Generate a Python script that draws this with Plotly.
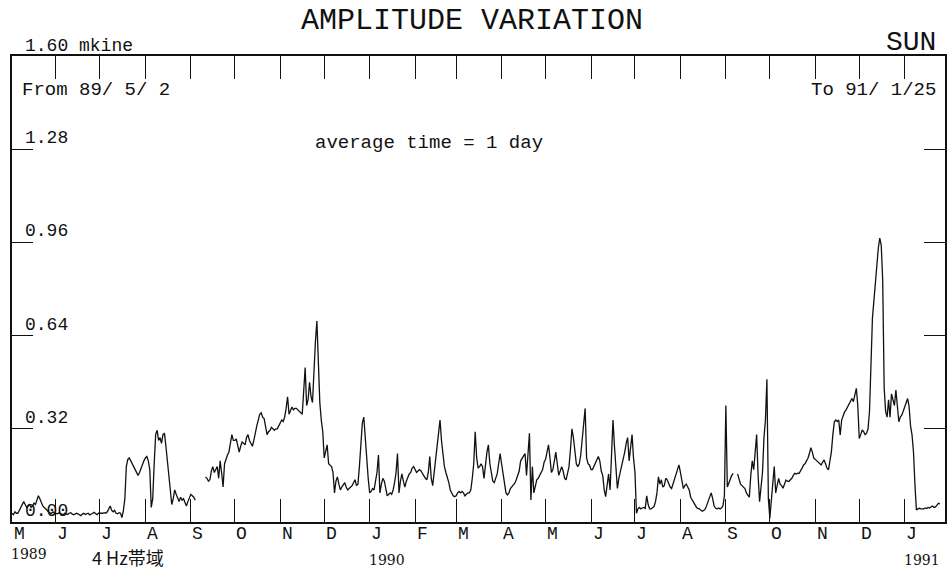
import pandas as pd
import plotly.graph_objects as go

# ---- daily amplitude values (mkine), 1989-05-02 .. 1991-01-25 ----
may89 = [0.03, 0.025, 0.035, 0.03, 0.03, 0.04, 0.05, 0.065, 0.07, 0.06,
         0.05, 0.055, 0.06, 0.05, 0.055, 0.065, 0.06, 0.075, 0.09, 0.08,
         0.065, 0.055, 0.05, 0.045, 0.04, 0.035, 0.03, 0.03, 0.035, 0.03]
jun89 = [0.03, 0.028, 0.032, 0.03, 0.027, 0.025, 0.03, 0.028, 0.026, 0.03,
         0.032, 0.028, 0.025, 0.027, 0.03, 0.028, 0.025, 0.022, 0.027, 0.03,
         0.026, 0.028, 0.03, 0.024, 0.026, 0.03, 0.033, 0.028, 0.025, 0.03]
jul89 = [0.03, 0.028, 0.03, 0.032, 0.03, 0.035, 0.045, 0.055, 0.04, 0.035,
         0.04, 0.03, 0.028, 0.032, 0.03, 0.015, 0.04, 0.08, 0.19, 0.215,
         0.22, 0.21, 0.2, 0.19, 0.175, 0.165, 0.16, 0.17, 0.185, 0.195, 0.21]
aug89 = [0.22, 0.225, 0.21, 0.18, 0.05, 0.08, 0.2, 0.3, 0.315, 0.28,
         0.29, 0.27, 0.3, 0.305, 0.26, 0.21, 0.14, 0.1, 0.06, 0.08,
         0.11, 0.095, 0.08, 0.07, 0.085, 0.075, 0.08, 0.065, 0.055, 0.07, 0.085]
sep89 = [0.095, 0.09, 0.085, 0.075, None, None, None, None, None, None,
         0.155, 0.15, 0.14, 0.145, 0.175, 0.19, 0.17, 0.18, 0.19, 0.15,
         0.21, 0.17, 0.12, 0.2, 0.22, 0.23, 0.24, 0.27, 0.3, 0.28]
oct89 = [0.28, 0.285, 0.26, 0.24, 0.26, 0.275, 0.27, 0.265, 0.29, 0.3,
         0.28, 0.27, 0.26, 0.28, 0.31, 0.33, 0.35, 0.37, 0.375, 0.36,
         0.355, 0.33, 0.3, 0.31, 0.315, 0.325, 0.32, 0.315, 0.32, 0.32, 0.33]
nov89 = [0.34, 0.35, 0.345, 0.36, 0.39, 0.43, 0.37, 0.38, 0.395, 0.385,
         0.39, 0.39, 0.385, 0.38, 0.375, 0.37, 0.45, 0.53, 0.4, 0.42,
         0.48, 0.43, 0.41, 0.54, 0.62, 0.69, 0.52, 0.41, 0.35, 0.31]
dec89 = [0.22, 0.245, 0.265, 0.2, 0.195, 0.19, 0.17, 0.1, 0.14, 0.155,
         0.13, 0.11, 0.12, 0.13, 0.135, 0.12, 0.11, 0.115, 0.12, 0.125,
         0.135, 0.145, 0.125, 0.13, 0.19, 0.25, 0.34, 0.36, 0.28, 0.2, 0.15]
jan90 = [0.1, 0.105, 0.115, 0.11, 0.14, 0.17, 0.23, 0.1, 0.13, 0.15,
         0.14, 0.11, 0.09, 0.095, 0.1, 0.095, 0.11, 0.135, 0.17, 0.235,
         0.1, 0.14, 0.165, 0.14, 0.12, 0.14, 0.155, 0.165, 0.17, 0.185, 0.19]
feb90 = [0.18, 0.17, 0.175, 0.18, 0.175, 0.165, 0.155, 0.15, 0.145, 0.17,
         0.225, 0.15, 0.125, 0.17, 0.2, 0.24, 0.29, 0.35, 0.28, 0.22,
         0.19, 0.17, 0.155, 0.135, 0.11, 0.1, 0.09, 0.087]
mar90 = [0.09, 0.1, 0.105, 0.1, 0.105, 0.1, 0.09, 0.095, 0.1, 0.1,
         0.11, 0.15, 0.2, 0.31, 0.22, 0.185, 0.19, 0.2, 0.19, 0.15,
         0.2, 0.24, 0.265, 0.2, 0.17, 0.14, 0.135, 0.15, 0.165, 0.2, 0.235]
apr90 = [0.2, 0.16, 0.14, 0.1, 0.093, 0.1, 0.115, 0.12, 0.125, 0.133,
         0.145, 0.16, 0.175, 0.21, 0.22, 0.225, 0.235, 0.16, 0.25, 0.305,
         0.076, 0.19, 0.1, 0.12, 0.145, 0.15, 0.16, 0.175, 0.18, 0.205]
may90 = [0.215, 0.24, 0.265, 0.22, 0.17, 0.18, 0.22, 0.24, 0.2, 0.16,
         0.175, 0.19, 0.175, 0.15, 0.145, 0.165, 0.19, 0.25, 0.32, 0.29,
         0.25, 0.2, 0.19, 0.2, 0.23, 0.28, 0.33, 0.39, 0.22, 0.2, 0.195]
jun90 = [0.18, 0.18, 0.19, 0.2, 0.21, 0.225, 0.21, 0.175, 0.16, 0.11,
         0.087, 0.13, 0.165, 0.11, 0.22, 0.35, 0.26, 0.18, 0.115, 0.15,
         0.17, 0.19, 0.22, 0.24, 0.27, 0.29, 0.21, 0.25, 0.3, 0.22]
jul90 = [0.17, 0.03, 0.045, 0.05, 0.045, 0.048, 0.05, 0.047, 0.09, 0.06,
         0.045, 0.045, 0.05, 0.053, 0.07, 0.1, 0.155, 0.13, 0.145, 0.12,
         0.125, 0.15, 0.145, 0.13, 0.12, 0.115, 0.13, 0.145, 0.16, 0.18, 0.196]
aug90 = [0.17, 0.14, 0.115, 0.125, 0.13, 0.12, 0.11, 0.085, 0.075, 0.065,
         0.055, 0.05, 0.047, 0.045, 0.04, 0.037, 0.04, 0.045, 0.058, 0.07,
         0.085, 0.1, 0.08, 0.055, 0.047, 0.045, 0.048, 0.045, 0.048, 0.055, 0.09]
sep90 = [0.4, 0.12, 0.135, 0.15, 0.16, 0.167, None, None, 0.165, 0.15,
         0.13, 0.125, 0.12, 0.115, 0.1, 0.09, 0.085, 0.16, 0.21, 0.18,
         0.25, 0.3, 0.16, 0.07, 0.12, 0.17, 0.29, 0.35, 0.49, 0.08]
oct90 = [0.013, 0.07, 0.11, 0.19, 0.1, 0.12, 0.15, 0.13, 0.125, 0.116,
         0.13, 0.144, 0.14, 0.139, 0.145, 0.15, 0.16, 0.167, 0.165, 0.168,
         0.167, 0.175, 0.185, 0.196, 0.2, 0.21, 0.219, 0.235, 0.255, 0.24, 0.219]
nov90 = [0.215, 0.21, 0.208, 0.2, 0.196, 0.205, 0.213, 0.2, 0.185, 0.179,
         0.21, 0.241, 0.3, 0.344, 0.35, 0.345, 0.35, 0.299, 0.35, 0.365,
         0.378, 0.385, 0.395, 0.401, 0.415, 0.424, 0.413, 0.44, 0.459, 0.401]
dec90 = [0.287, 0.3, 0.316, 0.31, 0.3, 0.305, 0.32, 0.38, 0.53, 0.7,
         0.76, 0.83, 0.87, 0.94, 0.975, 0.95, 0.83, 0.46, 0.38, 0.36,
         0.42, 0.36, 0.44, 0.42, 0.4, 0.453, 0.38, 0.344, 0.36, 0.367, 0.38]
jan91 = [0.396, 0.41, 0.424, 0.396, 0.33, 0.299, 0.241, 0.127, 0.041, 0.045,
         0.047, 0.045, 0.044, 0.045, 0.048, 0.046, 0.05, 0.048, 0.052, 0.055,
         0.05, 0.052, 0.058, 0.064, 0.062]

segment_starts = ["1989-05-02", "1989-06-01", "1989-07-01", "1989-08-01", "1989-09-01",
                  "1989-10-01", "1989-11-01", "1989-12-01", "1990-01-01", "1990-02-01",
                  "1990-03-01", "1990-04-01", "1990-05-01", "1990-06-01", "1990-07-01",
                  "1990-08-01", "1990-09-01", "1990-10-01", "1990-11-01", "1990-12-01",
                  "1991-01-01"]
segments = [may89, jun89, jul89, aug89, sep89, oct89, nov89, dec89, jan90, feb90,
            mar90, apr90, may90, jun90, jul90, aug90, sep90, oct90, nov90, dec90, jan91]

month_letters = ["M", "J", "J", "A", "S", "O", "N", "D", "J", "F", "M",
                 "A", "M", "J", "J", "A", "S", "O", "N", "D", "J"]
year_labels = ["1989", "1990", "1991"]
year_positions = ["1989-05-02", "1990-01-01", "1991-01-01"]
y_ticks = [0.32, 0.64, 0.96, 1.28]
y_labels = [0.00, 0.32, 0.64, 0.96, 1.28]

dates, values = [], []
for start, vals in zip(segment_starts, segments):
    dates += list(pd.date_range(start, periods=len(vals), freq="D"))
    values += vals

MONO = "Liberation Mono"
BLACK = "#111111"

fig = go.Figure()
fig.add_trace(go.Scatter(x=dates, y=values, mode="lines",
                         line=dict(color=BLACK, width=1.3),
                         connectgaps=False, hoverinfo="skip", showlegend=False))

annotations = []
# month letters along the bottom
for start, letter in zip(segment_starts, month_letters):
    annotations.append(dict(x=start, y=0, xref="x", yref="paper", text=letter,
                            showarrow=False, xanchor="center", yanchor="top",
                            xshift=7, yshift=0, font=dict(family=MONO, size=18, color=BLACK)))
# years
for pos, yr in zip(year_positions, year_labels):
    annotations.append(dict(x=pos, y=0, xref="x", yref="paper", text=yr,
                            showarrow=False, xanchor="left", yanchor="top",
                            xshift=-3, yshift=-22 if yr == "1989" else -28,
                            font=dict(family="DejaVu Serif", size=14, color=BLACK)))
# y value labels (inside, sitting on their ticks)
for v in y_labels:
    annotations.append(dict(x=0, y=v, xref="paper", yref="y", text=f"{v:.2f}",
                            showarrow=False, xanchor="left", yanchor="middle",
                            xshift=11, yshift=11, font=dict(family=MONO, size=18, color=BLACK)))

def ptext(text, x, y, xanchor, size, family=MONO):
    annotations.append(dict(x=x, y=y, xref="paper", yref="paper", text=text,
                            showarrow=False, xanchor=xanchor, yanchor="middle",
                            font=dict(family=family, size=size, color=BLACK)))

ptext("AMPLITUDE VARIATION", 0.493, 1.076, "center", 30)
ptext("1.60 mkine", 0.012, 1.021, "left", 18)
ptext("SUN", 0.993, 1.029, "right", 28)
ptext("From 89/ 5/ 2", 0.009, 0.926, "left", 19)
ptext("To 91/ 1/25", 0.992, 0.926, "right", 19)
ptext("average time = 1 day", 0.323, 0.813, "left", 19)
ptext("4 Hz帯域", 0.084, -0.076, "left", 18, "Noto Sans CJK JP")

fig.update_layout(
    width=949, height=570,
    margin=dict(l=12, r=2, t=56, b=48),
    paper_bgcolor="white", plot_bgcolor="white",
    annotations=annotations,
    xaxis=dict(type="date", range=["1989-05-02", "1991-01-28 12:00"],
               tickvals=segment_starts[1:], showticklabels=False,
               ticks="inside", ticklen=23, tickwidth=1.3, tickcolor=BLACK,
               showline=True, linecolor=BLACK, linewidth=1.5, mirror="allticks",
               showgrid=False, zeroline=False),
    yaxis=dict(range=[0, 1.6], tickvals=y_ticks, showticklabels=False,
               ticks="inside", ticklen=21, tickwidth=1.3, tickcolor=BLACK,
               showline=True, linecolor=BLACK, linewidth=1.5, mirror="allticks",
               showgrid=False, zeroline=False),
)

fig.write_html("out.html", config={"displayModeBar": False},
               post_script="document.body.style.margin='0px';")
